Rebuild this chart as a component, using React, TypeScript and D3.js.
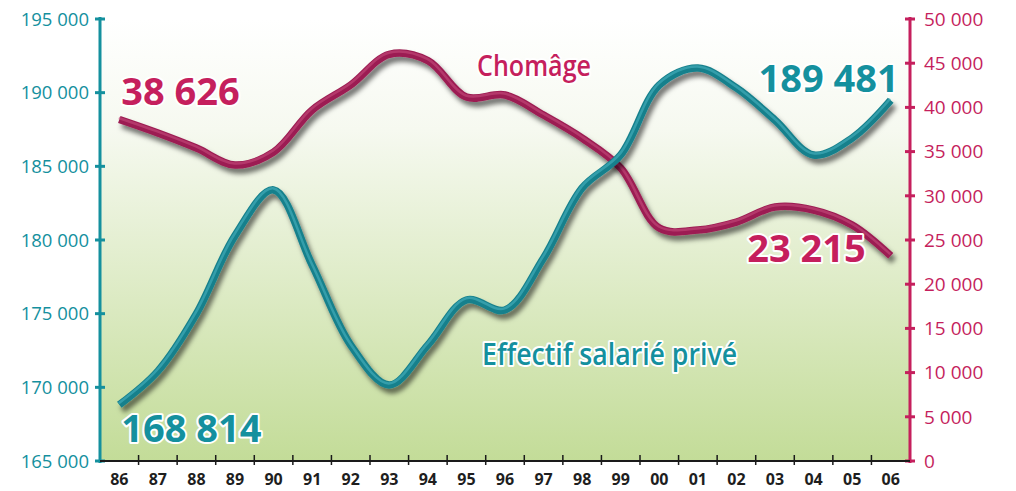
import React from 'react';
import * as d3 from 'd3';

const years = ['86', '87', '88', '89', '90', '91', '92', '93', '94', '95', '96', '97', '98', '99', '00', '01', '02', '03', '04', '05', '06'];
const effectif = [168814, 171100, 175000, 180300, 183400, 178300, 172870, 170160, 172870, 175930, 175250, 178780, 183530, 185770, 190520, 191670, 190320, 188140, 185770, 186920, 189481];
const chomage = [38626, 37100, 35400, 33480, 34950, 39700, 42530, 46000, 45300, 41170, 41400, 39130, 36530, 33140, 26350, 26130, 27030, 28730, 28390, 26690, 23215];
const leftTicks = [165000, 170000, 175000, 180000, 185000, 190000, 195000];
const rightTicks = [0, 5000, 10000, 15000, 20000, 25000, 30000, 35000, 40000, 45000, 50000];

const W = 1016;
const H = 491;
const left = 100;
const right = 910;
const top = 19;
const bottom = 461;

const TEAL = '#14909e';
const TEAL_LINE = '#17808c';
const RED = '#c51f5d';
const RED_LINE = '#9c1d52';

const fmt = (v: number) => d3.format(',')(v).replace(/,/g, ' ');

export default function App() {
  const x = d3.scaleBand<string>().domain(years).range([left, right]).padding(0);
  const yL = d3.scaleLinear().domain([165000, 195000]).range([bottom, top]);
  const yR = d3.scaleLinear().domain([0, 50000]).range([bottom, top]);
  const cx = (i: number) => (x(years[i]) as number) + x.bandwidth() / 2;

  const lineL = d3.line<number>().x((_, i) => cx(i)).y(d => yL(d)).curve(d3.curveCatmullRom.alpha(0.5));
  const lineR = d3.line<number>().x((_, i) => cx(i)).y(d => yR(d)).curve(d3.curveCatmullRom.alpha(0.5));
  const pathL = lineL(effectif) || '';
  const pathR = lineR(chomage) || '';

  const last = years.length - 1;
  const bigFont = { fontFamily: '"Open Sans", sans-serif', fontWeight: 700, fontSize: 38 } as const;
  const halo = { paintOrder: 'stroke', stroke: '#ffffff', strokeWidth: 4, strokeLinejoin: 'round' } as const;

  return (
    <svg width={W} height={H} style={{ position: 'absolute', left: 0, top: 0 }}>
      <defs>
        <linearGradient id="bg" x1="0" y1="0" x2="0" y2="1">
          <stop offset="0%" stopColor="#ffffff" />
          <stop offset="25%" stopColor="#f6f9f0" />
          <stop offset="100%" stopColor="#c3dc98" />
        </linearGradient>
        <filter id="shadow" x="-10%" y="-10%" width="120%" height="130%">
          <feDropShadow dx="3" dy="5" stdDeviation="2.5" floodColor="#000" floodOpacity="0.55" />
        </filter>
      </defs>
      <rect x={0} y={0} width={W} height={H} fill="#ffffff" />
      <rect x={left} y={top} width={right - left} height={bottom - top} fill="url(#bg)" />

      {/* lines */}
      <g filter="url(#shadow)">
        <path d={pathR} fill="none" stroke={RED_LINE} strokeWidth={7.5} />
      </g>
      <path d={pathR} fill="none" stroke="#c8507f" strokeWidth={2.5} strokeOpacity={0.55} transform="translate(-0.5,-1.6)" />
      <g filter="url(#shadow)">
        <path d={pathL} fill="none" stroke={TEAL_LINE} strokeWidth={7.5} />
      </g>
      <path d={pathL} fill="none" stroke="#49b3bf" strokeWidth={2.5} strokeOpacity={0.6} transform="translate(-0.5,-1.6)" />

      {/* left axis */}
      <line x1={left} x2={left} y1={top - 2} y2={bottom + 2} stroke={TEAL} strokeWidth={3} />
      {leftTicks.map(t => (
        <g key={t} transform={`translate(${left},${yL(t)})`}>
          <line x1={-5} x2={5} stroke={TEAL} strokeWidth={3} />
          <text x={-11} dy="0.36em" textAnchor="end" fill={TEAL} style={{ fontFamily: '"Open Sans", sans-serif', fontSize: 18.5 }}>
            {fmt(t)}
          </text>
        </g>
      ))}

      {/* right axis */}
      <line x1={right} x2={right} y1={top - 2} y2={bottom + 2} stroke={RED} strokeWidth={3} />
      {rightTicks.map(t => (
        <g key={t} transform={`translate(${right},${yR(t)})`}>
          <line x1={-5} x2={5} stroke={RED} strokeWidth={3} />
          <text x={14} dy="0.36em" textAnchor="start" fill={RED} style={{ fontFamily: '"Open Sans", sans-serif', fontSize: 19 }}>
            {fmt(t)}
          </text>
        </g>
      ))}

      {/* bottom axis */}
      <line x1={left} x2={right} y1={bottom} y2={bottom} stroke="#1a1a1a" strokeWidth={2} />
      {years.slice(1).map(yr => (
        <line key={yr} x1={x(yr)} x2={x(yr)} y1={bottom - 6} y2={bottom + 4} stroke="#1a1a1a" strokeWidth={1.5} />
      ))}
      {years.map((yr, i) => (
        <text key={yr} x={cx(i)} y={485} textAnchor="middle" fill="#1e1e1e" style={{ fontFamily: '"Open Sans", sans-serif', fontWeight: 700, fontSize: 16 }}>
          {yr}
        </text>
      ))}

      {/* value labels */}
      <text x={cx(0) + 2} y={105} fill={RED} style={{ ...bigFont, ...halo }}>{fmt(chomage[0])}</text>
      <text x={cx(0) + 2} y={442} fill={TEAL} style={{ ...bigFont, ...halo }}>{fmt(effectif[0])}</text>
      <text x={cx(last) + 8} y={92} textAnchor="end" fill={TEAL} style={{ ...bigFont, ...halo }}>{fmt(effectif[last])}</text>
      <text x={cx(last) - 25} y={262} textAnchor="end" fill={RED} style={{ ...bigFont, ...halo }}>{fmt(chomage[last])}</text>

      {/* series names */}
      <text x={477} y={76} fill={RED} textLength={114} lengthAdjust="spacingAndGlyphs"
        style={{ fontFamily: '"Open Sans", sans-serif', fontWeight: 600, fontSize: 28, ...halo }}>Chomâge</text>
      <text x={482} y={365} fill={TEAL} textLength={255} lengthAdjust="spacingAndGlyphs"
        style={{ fontFamily: '"Open Sans", sans-serif', fontWeight: 600, fontSize: 30, ...halo }}>Effectif salarié privé</text>
    </svg>
  );
}
